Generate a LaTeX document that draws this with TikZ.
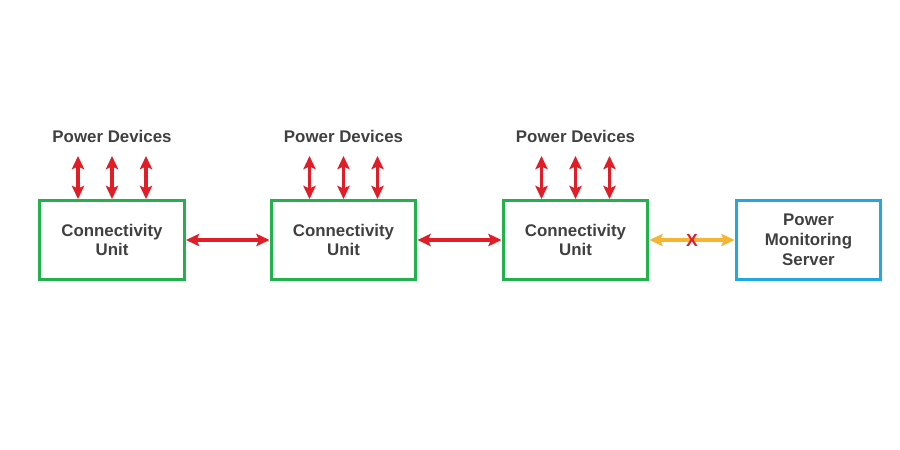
\documentclass[tikz,border=0pt]{standalone}
\usepackage{fontspec}
\setmainfont{Liberation Sans}
\usepackage{xcolor}
\usepackage{tikz}
\usetikzlibrary{arrows.meta, positioning}

\definecolor{unitgreen}{RGB}{34,177,76}
\definecolor{srvblue}{RGB}{30,170,225}
\definecolor{linkred}{RGB}{225,30,40}
\definecolor{linkorange}{RGB}{245,180,50}

\begin{document}
\begin{tikzpicture}[x=0.02cm, y=-0.02cm,
  unitbox/.style={draw=unitgreen, line width=1.7pt, minimum width=2.9cm, minimum height=1.58cm,
    align=center, font=\bfseries\fontsize{9.6}{11.3}\selectfont, text=black!75},
  srvbox/.style={unitbox, draw=srvblue},
  devlabel/.style={font=\bfseries\fontsize{9.6}{11.3}\selectfont, text=black!75},
  link/.style={draw=linkred, line width=2.2pt, {Stealth[length=7.5pt,width=7pt,inset=1.5pt]}-{Stealth[length=7.5pt,width=7pt,inset=1.5pt]}},
  devlink/.style={link, line width=1.9pt}]
  \useasboundingbox (0,0) rectangle (900,450);
  % Connectivity units with their power devices
  \foreach \i/\x in {1/112, 2/343.5, 3/575.5} {
    \node[unitbox] (cu\i) at (\x,240) {Connectivity\\Unit};
    \node[devlabel] (pd\i) at (\x,136) {Power Devices};
    \foreach \j/\dx in {a/-34, b/0, c/34} {
      \coordinate (d\i\j) at (\x+\dx,156);
      \draw[devlink] (cu\i.north -| d\i\j) -- (d\i\j);
    }
  }
  % Server
  \node[srvbox] (srv) at (808.5,240) {Power\\Monitoring\\Server};
  % Links between units
  \draw[link] (cu1) -- (cu2);
  \draw[link] (cu2) -- (cu3);
  \draw[link, draw=linkorange] (cu3) -- node[text=linkred, inner sep=0pt, font=\bfseries\fontsize{10}{10}\selectfont] (cut) {X} (srv);
\end{tikzpicture}
\end{document}
